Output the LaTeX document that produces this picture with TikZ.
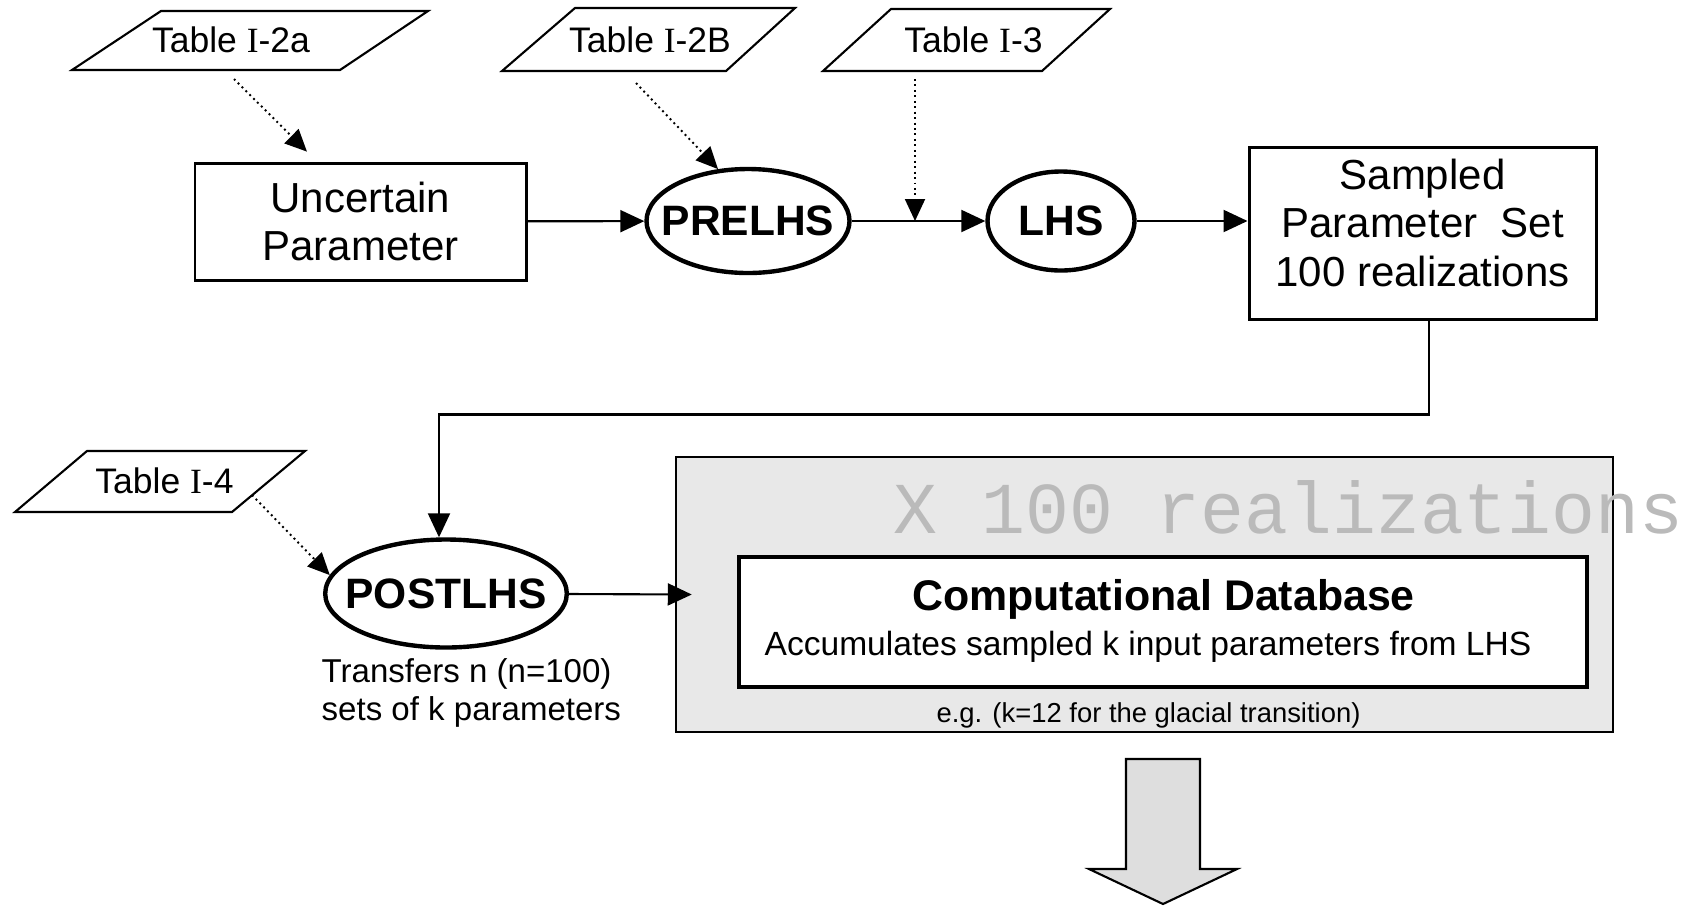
\documentclass[tikz,border=0pt]{standalone}
\usepackage{fontspec}
\setmainfont{Liberation Sans}
\newfontfamily\romanI{Liberation Serif}
\newfontfamily\typefam{Liberation Mono}
\usetikzlibrary{positioning, arrows.meta, shapes.geometric}

\newcommand{\tabI}{{\romanI I}}

\tikzset{
  procbox/.style={draw, line width=0.85pt, rectangle, align=center, inner sep=0pt, font=\fontsize{11.95}{13.8}\selectfont},
  prog/.style={draw, line width=1.25pt, ellipse, inner xsep=-0.15cm, inner ysep=0pt, font=\bfseries\fontsize{12.1}{14}\selectfont},
  tabshape/.style={draw, line width=0.6pt, line join=miter},
  tablabel/.style={anchor=base, inner sep=0pt, font=\fontsize{10.1}{12}\selectfont},
  flowline/.style={line width=0.6pt, -{Triangle[length=0.24cm, width=0.22cm]}},
  feedline/.style={line width=0.55pt, densely dotted, -{Triangle[length=0.22cm, width=0.2cm]}},
}

\begin{document}
\begin{tikzpicture}[x=1cm, y=-1cm]
    \useasboundingbox (0,0) rectangle (17.04,9.06);

    %% input tables
    \draw[tabshape] (0.72,0.70) -- (3.40,0.70) -- (4.28,0.11) -- (1.61,0.11) -- cycle
                    (5.02,0.71) -- (7.26,0.71) -- (7.95,0.08) -- (5.75,0.08) -- cycle
                    (8.23,0.71) -- (10.42,0.71) -- (11.10,0.09) -- (8.91,0.09) -- cycle
                    (0.15,5.12) -- (2.32,5.12) -- (3.05,4.51) -- (0.87,4.51) -- cycle;
    \draw (2.31,0.52) node[tablabel] (t2a) {Table \tabI-2a}
          (6.50,0.52) node[tablabel] (t2b) {Table \tabI-2B}
          (9.735,0.52) node[tablabel] (t3) {Table \tabI-3}
          (1.645,4.93) node[tablabel] (t4) {Table \tabI-4};

    %% sampling chain
    \draw (3.605,2.215) node[procbox, minimum width=3.31cm, minimum height=1.17cm] (uncert) {Uncertain\\Parameter}
          (7.48,2.21) node[prog, minimum width=2.03cm, minimum height=1.04cm] (prelhs) {PRELHS}
          (10.61,2.21) node[prog, minimum width=1.47cm, minimum height=0.99cm] (lhs) {LHS}
          (14.225,2.33) node[procbox, minimum width=3.47cm, minimum height=1.72cm] (sampled)
              {\raisebox{0pt}[\height][\dimexpr\depth+0.1cm\relax]{\begin{tabular}{@{}c@{}}Sampled\\Parameter~~Set\\100 realizations\end{tabular}}}
          (4.46,5.935) node[prog, minimum width=2.41cm, minimum height=1.08cm] (postlhs) {POSTLHS};

    %% database
    \draw (11.445,5.945) node[draw, line width=0.7pt, fill=black!9, minimum width=9.37cm, minimum height=2.75cm] (realbox) {}
          (11.63,6.22) node[draw, line width=1.4pt, fill=white, minimum width=8.48cm, minimum height=1.30cm] (cdb) {};
    \draw (8.93,5.33) node[anchor=base west, inner sep=0pt, text=black!27, font=\typefam\fontsize{20.8}{24}\selectfont] (reps) {X 100 realizations}
          (11.635,6.10) node[anchor=base, inner sep=0pt, font=\bfseries\fontsize{12.2}{14}\selectfont] (cdbtitle) {Computational Database}
          (11.48,6.55) node[anchor=base, inner sep=0pt, font=\fontsize{9.55}{11}\selectfont] (cdbnote) {Accumulates sampled k input parameters from LHS}
          (11.485,7.22) node[anchor=base, inner sep=0pt, font=\fontsize{7.8}{9}\selectfont] (kcount) {e.g. (k=12 for the glacial transition)}
          (3.21,6.925) node[anchor=west, align=left, inner sep=0pt, font=\fontsize{9.4}{10.8}\selectfont] (xfer) {Transfers n (n=100)\\sets of k parameters};

    %% output arrow
    \draw[line width=0.6pt, fill=black!13, line join=miter] (11.26,7.59) -- (12.00,7.59) -- (12.00,8.69) -- (12.37,8.69)
          -- (11.63,9.04) -- (10.89,8.69) -- (11.26,8.69) -- cycle;

    %% connectors
    \draw[flowline] (uncert) -- (prelhs);
    \draw[flowline] (prelhs) -- (lhs);
    \draw[flowline] (lhs) -- (lhs -| sampled.west);
    \draw[flowline] ([xshift=0.065cm]sampled.south) -- ++(0,0.94) -| ([xshift=-0.07cm]postlhs.north);
    \draw[flowline] (postlhs) -- ([xshift=0.17cm]realbox.west);

    \coordinate (t2a-out) at (2.34,0.79);
    \coordinate (t2b-out) at (6.36,0.83);
    \coordinate (t3-out) at (9.15,0.79);
    \coordinate (t4-out) at (2.52,4.95);
    \draw[feedline, shorten >=0.14cm] (t2a-out) -- (uncert.126);
    \draw[feedline] (t2b-out) -- (prelhs.120);
    \draw[feedline] (t3-out) -- (t3-out |- prelhs);
    \draw[feedline] (t4-out) -- (postlhs.171);
\end{tikzpicture}
\end{document}
